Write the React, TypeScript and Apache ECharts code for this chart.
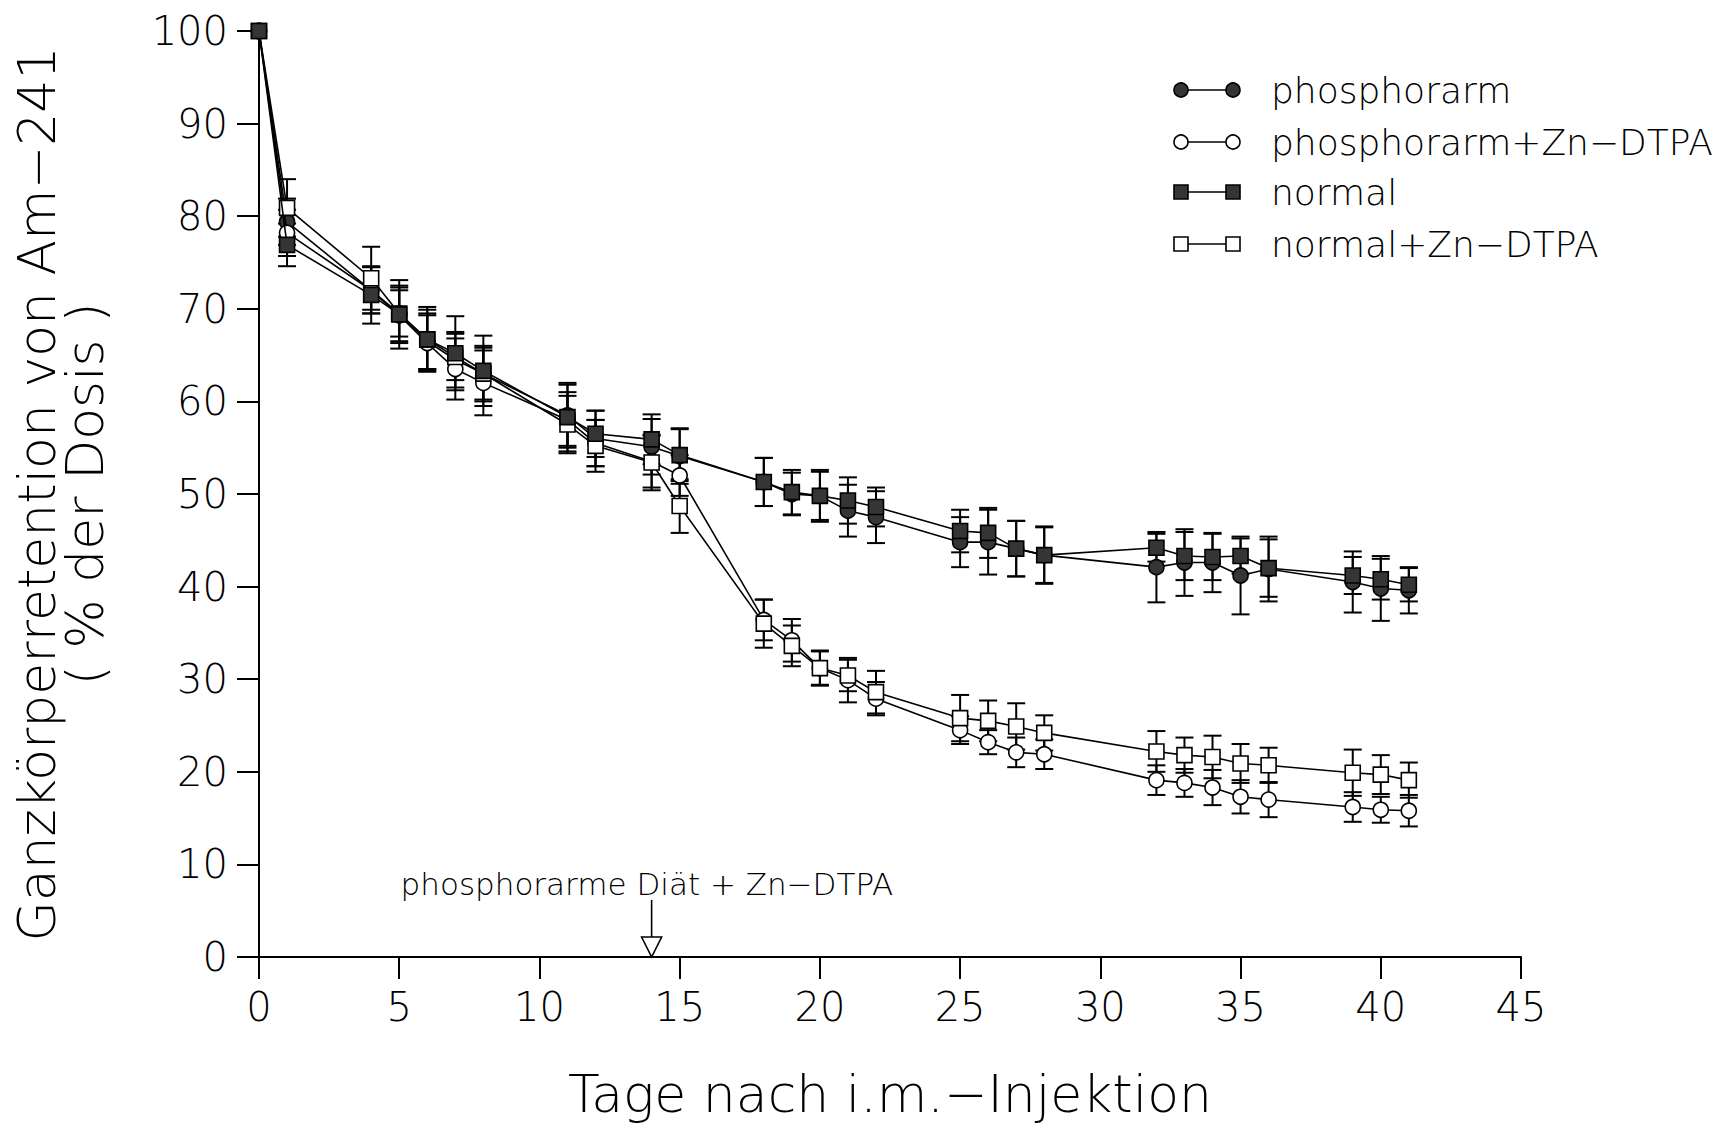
import React, { useEffect, useRef } from "react";
import * as echarts from "echarts";

const days = [0, 1, 4, 5, 6, 7, 8, 11, 12, 14, 15, 18, 19, 20, 21, 22, 25, 26, 27, 28, 32, 33, 34, 35, 36, 39, 40, 41];

const phosphorarm = [100, 79.4, 72.0, 69.5, 66.5, 64.5, 63.0, 58.5, 56.0, 55.1, 54.1, 51.3, 50.0, 49.8, 48.2, 47.5, 44.8, 44.8, 44.1, 43.4, 42.1, 42.6, 42.6, 41.2, 41.9, 40.5, 39.8, 39.6];
const phosphorarmSd = [0, 2.5, 2.5, 2.5, 3, 3, 3, 3.3, 3, 3, 3, 2.6, 2.3, 2.6, 2.8, 2.8, 2.7, 3.5, 3, 3, 3.8, 3.6, 3.2, 4.2, 3.5, 3.3, 3.5, 2.5];

const phosphorarmZn = [100, 78.2, 72.0, 69.3, 66.3, 63.5, 62.0, 58.0, 55.5, 53.5, 52.0, 36.4, 34.2, 31.2, 29.9, 27.9, 24.5, 23.2, 22.1, 21.9, 19.1, 18.8, 18.3, 17.3, 17.0, 16.2, 15.9, 15.8];
const phosphorarmZnSd = [0, 2.5, 2.5, 3, 3, 3.3, 3.5, 3, 2.5, 2.8, 2.2, 2.2, 2.3, 1.8, 2.4, 1.8, 1.5, 1.3, 1.6, 1.6, 1.6, 1.5, 1.9, 1.8, 1.9, 1.6, 1.4, 1.7];

const normal = [100, 76.9, 71.5, 69.4, 66.7, 65.2, 63.3, 58.3, 56.5, 55.9, 54.2, 51.3, 50.2, 49.8, 49.3, 48.6, 46.0, 45.8, 44.1, 43.4, 44.2, 43.3, 43.2, 43.3, 42.0, 41.2, 40.8, 40.2];
const normalSd = [0, 2.3, 3.1, 3.7, 3.5, 4.0, 3.8, 3.7, 2.5, 2.7, 2.8, 2.6, 2.4, 2.8, 2.5, 2.1, 2.3, 2.7, 3.0, 3.1, 1.5, 2.6, 2.5, 1.9, 3.1, 2.0, 2.2, 1.8];

const normalZn = [100, 80.9, 73.3, 69.5, 66.7, 64.8, 63.0, 57.5, 55.2, 53.4, 48.7, 36.0, 33.6, 31.2, 30.4, 28.6, 25.8, 25.5, 24.9, 24.2, 22.2, 21.8, 21.6, 20.9, 20.7, 19.9, 19.7, 19.1];
const normalZnSd = [0, 3.1, 3.4, 3.0, 3.2, 2.5, 2.8, 3.1, 2.8, 3.0, 2.9, 2.6, 2.2, 1.9, 1.7, 2.3, 2.5, 2.2, 2.5, 1.9, 2.2, 1.9, 2.3, 2.1, 1.9, 2.5, 2.1, 1.9];

const seriesNames = ["phosphorarm", "phosphorarm+Zn−DTPA", "normal", "normal+Zn−DTPA"];
const xTitle = "Tage nach i.m.−Injektion";
const yTitle = "Ganzkörperretention von Am−241\n( % der Dosis )";
const annotationText = "phosphorarme Diät + Zn−DTPA";
const annotationDay = 14;

const FONT = "DejaVu Sans";
const FILL = "#353535";

export default function App() {
  const ref = useRef<HTMLDivElement>(null);
  useEffect(() => {
    if (!ref.current) return;
    const chart = echarts.init(ref.current, undefined, { renderer: "svg" });

    const groups = [
      { name: seriesNames[0], vals: phosphorarm, sd: phosphorarmSd, symbol: "circle", filled: true, z: 4 },
      { name: seriesNames[1], vals: phosphorarmZn, sd: phosphorarmZnSd, symbol: "circle", filled: false, z: 5 },
      { name: seriesNames[2], vals: normal, sd: normalSd, symbol: "rect", filled: true, z: 7 },
      { name: seriesNames[3], vals: normalZn, sd: normalZnSd, symbol: "rect", filled: false, z: 6 },
    ];

    const errSeries = groups.map((g) => ({
      type: "custom",
      name: g.name + " SD",
      z: 2,
      encode: { x: 0, y: [1, 2] },
      data: days.map((d, i) => [d, g.vals[i] - g.sd[i], g.vals[i] + g.sd[i]]),
      renderItem: (params: any, api: any) => {
        const x = api.value(0);
        const lo = api.value(1);
        const hi = api.value(2);
        if (hi - lo < 0.01) return { type: "group", children: [] };
        const pHi = api.coord([x, hi]);
        const pLo = api.coord([x, lo]);
        const w = 9;
        const st = { stroke: "#000", lineWidth: 2 };
        return {
          type: "group",
          children: [
            { type: "line", shape: { x1: pHi[0], y1: pHi[1], x2: pLo[0], y2: pLo[1] }, style: st },
            { type: "line", shape: { x1: pHi[0] - w, y1: pHi[1], x2: pHi[0] + w, y2: pHi[1] }, style: st },
            { type: "line", shape: { x1: pLo[0] - w, y1: pLo[1], x2: pLo[0] + w, y2: pLo[1] }, style: st },
          ],
        };
      },
    }));

    const lineSeries = groups.map((g) => ({
      type: "line",
      name: g.name,
      z: g.z,
      data: days.map((d, i) => [d, g.vals[i]]),
      symbol: g.symbol,
      symbolSize: 15,
      showSymbol: true,
      lineStyle: { color: "#000", width: 1.6 },
      itemStyle: { color: g.filled ? FILL : "#fff", borderColor: "#000", borderWidth: 1.6, opacity: 1 },
      emphasis: { disabled: true },
    }));

    const annotationSeries = {
      type: "custom",
      name: "annotation",
      z: 10,
      data: [[annotationDay, 0]],
      renderItem: (params: any, api: any) => {
        const p = api.coord([api.value(0), api.value(1)]);
        const x = p[0];
        const y = p[1];
        return {
          type: "group",
          children: [
            { type: "line", shape: { x1: x, y1: y - 57, x2: x, y2: y - 20 }, style: { stroke: "#000", lineWidth: 1.6 } },
            {
              type: "polygon",
              shape: { points: [[x - 10, y - 20], [x + 10, y - 20], [x, y]] },
              style: { fill: "#fff", stroke: "#000", lineWidth: 1.6 },
            },
            {
              type: "text",
              x: x - 251,
              y: y - 73,
              style: { text: annotationText, fontSize: 31, fontFamily: FONT, fontWeight: 300, fill: "#000", verticalAlign: "middle", align: "left" },
            },
          ],
        };
      },
    };

    const legendRows = [90, 142, 192, 244];
    const legendGraphics: any[] = [];
    groups.forEach((g, i) => {
      const y = legendRows[i];
      const x1 = 1181;
      const x2 = 1233;
      legendGraphics.push({ type: "line", shape: { x1, y1: y, x2, y2: y }, style: { stroke: "#000", lineWidth: 1.6 } });
      [x1, x2].forEach((cx) => {
        if (g.symbol === "circle") {
          legendGraphics.push({ type: "circle", shape: { cx, cy: y, r: 7 }, style: { fill: g.filled ? FILL : "#fff", stroke: "#000", lineWidth: 1.6 } });
        } else {
          legendGraphics.push({ type: "rect", shape: { x: cx - 7, y: y - 7, width: 14, height: 14 }, style: { fill: g.filled ? FILL : "#fff", stroke: "#000", lineWidth: 1.6 } });
        }
      });
      legendGraphics.push({
        type: "text",
        x: 1271,
        y,
        style: { text: g.name, fontSize: 36, fontFamily: FONT, fontWeight: 300, fill: "#000", verticalAlign: "middle" },
      });
    });

    chart.setOption({
      animation: false,
      backgroundColor: "#fff",
      grid: { left: 259, right: 202, top: 31, bottom: 166, containLabel: false },
      xAxis: {
        type: "value",
        min: 0,
        max: 45,
        interval: 5,
        name: xTitle,
        nameLocation: "middle",
        nameGap: 137,
        nameTextStyle: { fontSize: 52, fontFamily: FONT, fontWeight: 300, color: "#000", verticalAlign: "middle" },
        axisLine: { show: true, onZero: false, lineStyle: { color: "#000", width: 2 } },
        axisTick: { show: true, inside: false, length: 22, lineStyle: { color: "#000", width: 2 } },
        axisLabel: { fontSize: 40, fontFamily: FONT, fontWeight: 300, color: "#000", margin: 30 },
        splitLine: { show: false },
      },
      yAxis: {
        type: "value",
        min: 0,
        max: 100,
        interval: 10,
        name: yTitle,
        nameLocation: "middle",
        nameGap: 198,
        nameRotate: 90,
        nameTextStyle: { fontSize: 52, fontFamily: FONT, fontWeight: 300, color: "#000", lineHeight: 48, verticalAlign: "middle", align: "center" },
        axisLine: { show: true, onZero: false, lineStyle: { color: "#000", width: 2 } },
        axisTick: { show: true, inside: false, length: 22, lineStyle: { color: "#000", width: 2 } },
        axisLabel: { fontSize: 40, fontFamily: FONT, fontWeight: 300, color: "#000", margin: 31 },
        splitLine: { show: false },
      },
      graphic: legendGraphics,
      series: [...errSeries, ...lineSeries, annotationSeries],
    } as any);

    return () => chart.dispose();
  }, []);

  return <div ref={ref} style={{ position: "fixed", left: 0, top: 0, width: 1723, height: 1125 }} />;
}
